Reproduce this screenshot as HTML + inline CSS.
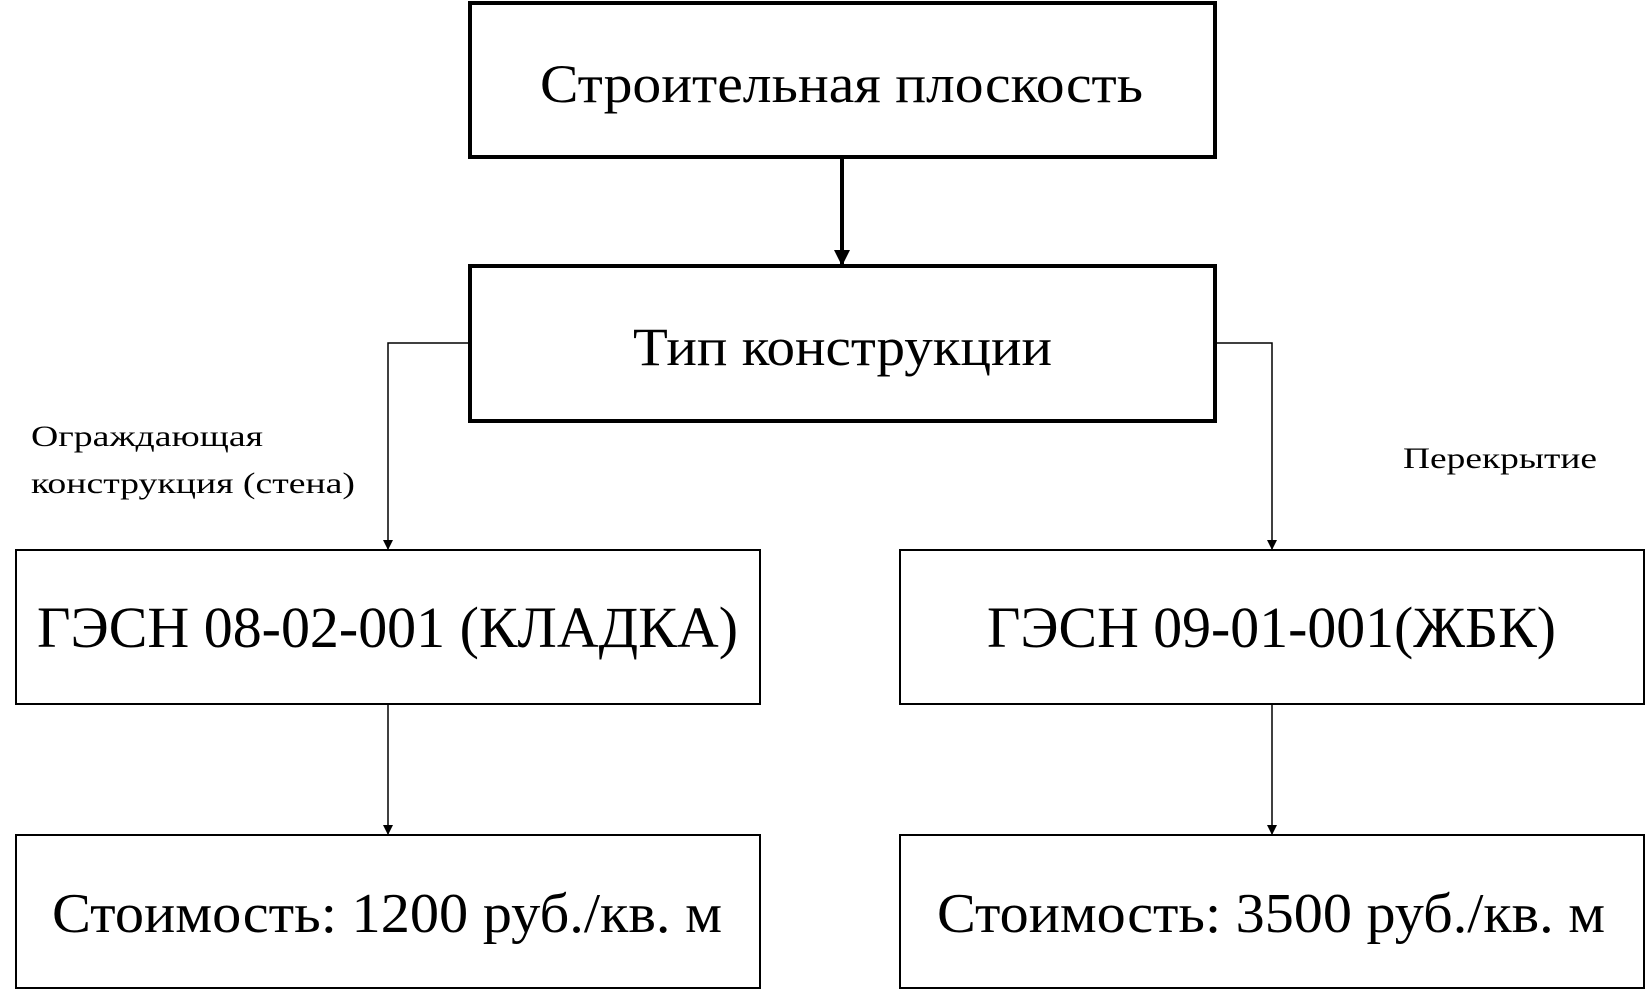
<!DOCTYPE html>
<html><head><meta charset="utf-8"><style>html,body{margin:0;padding:0;background:#fff}svg{display:block}</style></head>
<body>
<svg width="1645" height="990" viewBox="0 0 1645 990" xmlns="http://www.w3.org/2000/svg" font-family="Liberation Serif, serif">
<defs>
<marker id="a" markerWidth="10" markerHeight="10" refX="9" refY="5" orient="auto" markerUnits="userSpaceOnUse"><path d="M0,0 L10,5 L0,10 z" fill="#000"/></marker>
<marker id="b" markerWidth="16" markerHeight="16" refX="14" refY="8" orient="auto" markerUnits="userSpaceOnUse"><path d="M0,0 L16,8 L0,16 z" fill="#000"/></marker>
</defs>
<g fill="none" stroke="#000">
<rect x="470" y="3" width="745" height="154" stroke-width="4"/>
<rect x="470" y="266" width="745" height="155" stroke-width="4"/>
<rect x="16" y="550" width="744" height="154" stroke-width="2"/>
<rect x="900" y="550" width="744" height="154" stroke-width="2"/>
<rect x="16" y="835" width="744" height="153" stroke-width="2"/>
<rect x="900" y="835" width="744" height="153" stroke-width="2"/>
<line x1="842" y1="157" x2="842" y2="264" stroke-width="4" marker-end="url(#b)"/>
<polyline points="470,343 388,343 388,549" stroke-width="1.5" marker-end="url(#a)"/>
<polyline points="1215,343 1272,343 1272,549" stroke-width="1.5" marker-end="url(#a)"/>
<line x1="388" y1="704" x2="388" y2="834" stroke-width="1.5" marker-end="url(#a)"/>
<line x1="1272" y1="704" x2="1272" y2="834" stroke-width="1.5" marker-end="url(#a)"/>
</g>
<g fill="#000">
<text x="540" y="102" font-size="54" textLength="603" lengthAdjust="spacingAndGlyphs">Строительная плоскость</text>
<text x="633" y="365" font-size="54" textLength="419" lengthAdjust="spacingAndGlyphs">Тип конструкции</text>
<text x="37" y="647" font-size="58" textLength="701" lengthAdjust="spacingAndGlyphs">ГЭСН 08-02-001 (КЛАДКА)</text>
<text x="987" y="647" font-size="58" textLength="569" lengthAdjust="spacingAndGlyphs">ГЭСН 09-01-001(ЖБК)</text>
<text x="52" y="932" font-size="56" textLength="670" lengthAdjust="spacingAndGlyphs">Стоимость: 1200 руб./кв. м</text>
<text x="937" y="932" font-size="56" textLength="668" lengthAdjust="spacingAndGlyphs">Стоимость: 3500 руб./кв. м</text>
<text x="31" y="446" font-size="30" textLength="232" lengthAdjust="spacingAndGlyphs">Ограждающая</text>
<text x="31" y="493" font-size="30" textLength="324" lengthAdjust="spacingAndGlyphs">конструкция (стена)</text>
<text x="1403" y="468" font-size="30" textLength="194" lengthAdjust="spacingAndGlyphs">Перекрытие</text>
</g>
</svg>
</body></html>
